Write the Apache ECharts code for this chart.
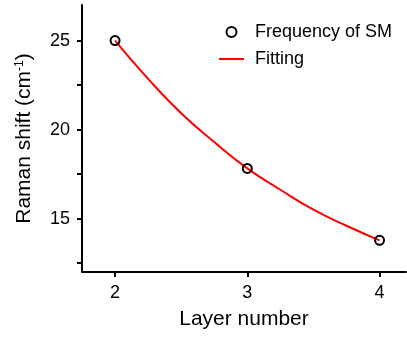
<!DOCTYPE html>
<html>
<head>
<meta charset="utf-8">
<script src="https://cdn.jsdelivr.net/npm/echarts@6/dist/echarts.min.js"></script>
<style>
html,body{margin:0;padding:0;background:#fff;}
#c{width:407px;height:338px;}
</style>
</head>
<body>
<div id="c"></div>
<script>
// Measured points
const layers = [2, 3, 4];
const ramanShift = [25.0, 17.82, 13.78];
// Fitting curve
const fitX = [2, 2.25, 2.5, 2.75, 3, 3.25, 3.5, 3.75, 4];
const fitY = [25.0, 22.85, 20.92, 19.3, 17.82, 16.62, 15.5, 14.6, 13.78];
// Ticks
const xTicks = [2, 3, 4];
const yLabels = [15, 20, 25];
const yTicks = [12.5, 15, 17.5, 20, 22.5, 25];

const font = '"Liberation Sans", Arial, sans-serif';
const chart = echarts.init(document.getElementById('c'), null, {renderer: 'canvas'});
chart.setOption({
  animation: false,
  backgroundColor: '#fff',
  grid: {left: 82, right: 1, top: 5, bottom: 66, containLabel: false},
  legend: {
    orient: 'vertical',
    left: 214,
    top: 18,
    itemWidth: 25,
    itemHeight: 10,
    itemGap: 9,
    textStyle: {fontFamily: font, fontSize: 18, color: '#000', lineHeight: 18, padding: [0, 0, 0, 6]},
    data: [
      {name: 'Frequency of SM', icon: 'circle', itemStyle: {color: '#fff', borderColor: '#000', borderWidth: 2}},
      {name: 'Fitting', icon: 'path://M0,0H24V2H0Z', itemStyle: {color: '#ff0000', borderWidth: 0}}
    ]
  },
  xAxis: {
    type: 'value',
    min: 1.75,
    max: 4.2,
    name: 'Layer number',
    nameLocation: 'middle',
    nameGap: 37,
    nameTextStyle: {fontFamily: font, fontSize: 21, color: '#000'},
    splitLine: {show: false},
    axisLine: {lineStyle: {color: '#000', width: 2}},
    axisTick: {customValues: xTicks, length: 5, lineStyle: {color: '#000', width: 2}},
    axisLabel: {customValues: xTicks, fontFamily: font, fontSize: 18, color: '#000', margin: 12}
  },
  yAxis: {
    type: 'value',
    min: 12,
    max: 27,
    name: 'Raman shift (cm{sup|-1})',
    nameLocation: 'middle',
    nameGap: 47,
    nameRotate: 90,
    nameTextStyle: {
      fontFamily: font, fontSize: 21, color: '#000',
      rich: {sup: {fontFamily: font, fontSize: 12, color: '#000', verticalAlign: 'top', lineHeight: 21}}
    },
    splitLine: {show: false},
    axisLine: {show: true, lineStyle: {color: '#000', width: 2}},
    axisTick: {customValues: yTicks, length: 5, lineStyle: {color: '#000', width: 2}},
    axisLabel: {customValues: yLabels, fontFamily: font, fontSize: 18, color: '#000', margin: 12}
  },
  series: [
    {
      name: 'Fitting',
      type: 'line',
      data: fitX.map((x, i) => [x, fitY[i]]),
      smooth: true,
      showSymbol: false,
      symbol: 'none',
      lineStyle: {color: '#ff0000', width: 2},
      itemStyle: {color: '#ff0000'},
      z: 2
    },
    {
      name: 'Frequency of SM',
      type: 'scatter',
      data: layers.map((x, i) => [x, ramanShift[i]]),
      symbol: 'circle',
      symbolSize: 9,
      itemStyle: {color: 'rgba(255,255,255,0)', borderColor: '#000', borderWidth: 2, opacity: 1},
      z: 3
    }
  ]
});
</script>
</body>
</html>
